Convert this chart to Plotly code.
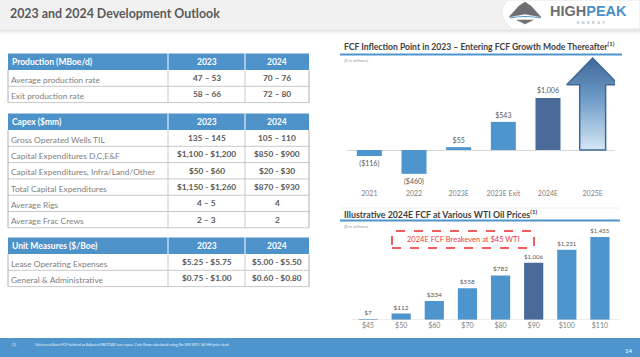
import plotly.graph_objects as go

# ---------------- data ----------------
title_text = "2023 and 2024 Development Outlook"

prod_header = ["Production (MBoe/d)", "2023", "2024"]
prod_rows = [["Average production rate", "47 – 53", "70 – 76"],
             ["Exit production rate", "58 – 66", "72 – 80"]]
capex_header = ["Capex ($mm)", "2023", "2024"]
capex_rows = [["Gross Operated Wells TIL", "135 – 145", "105 – 110"],
              ["Capital Expenditures D,C,E&F", "$1,100 - $1,200", "$850 - $900"],
              ["Capital Expenditures, Infra/Land/Other", "$50 - $60", "$20 - $30"],
              ["Total Capital Expenditures", "$1,150 - $1,260", "$870 - $930"],
              ["Average Rigs", "4 – 5", "4"],
              ["Average Frac Crews", "2 – 3", "2"]]
unit_header = ["Unit Measures ($/Boe)", "2023", "2024"]
unit_rows = [["Lease Operating Expenses", "$5.25 - $5.75", "$5.00 - $5.50"],
             ["General & Administrative", "$0.75 - $1.00", "$0.60 - $0.80"]]

fcf_title = "FCF Inflection Point in 2023 – Entering FCF Growth Mode Thereafter<sup>(1)</sup>"
fcf_years = ["2021", "2022", "2023E", "2023E Exit", "2024E", "2025E"]
fcf_values = [-116, -460, 55, 543, 1006]          # 2025E shown as an arrow
fcf_highlight = ["2024E"]

wti_title = "Illustrative 2024E FCF at Various WTI Oil Prices<sup>(1)</sup>"
wti_prices = ["$45", "$50", "$60", "$70", "$80", "$90", "$100", "$110"]
wti_fcf = [7, 112, 334, 558, 782, 1006, 1231, 1455]
wti_highlight = ["$90"]
breakeven_text = "2024E FCF Breakeven at $45 WTI"
units_text = "($ in millions)"
footnote_num = "(1)"
footnote_text = ("Unlevered Asset FCF defined as Adjusted EBITDAX less capex. "
                 "Cash flows calculated using flat $90 WTI/ $4 HH price deck.")
page_num = "14"

# ---------------- styles ----------------
W, H = 640, 357
FONT = "Lato"
BLUE = "#4f95cd"
DARK = "#4a6b99"
HDR = "#4e92ca"
GRAY_TXT = "#808080"
VAL_TXT = "#595959"


def X(px):
    return px / W


def Y(py):
    return 1 - py / H


shapes = []
annots = []


def rect(x0, y0, x1, y1, fill, line=None, lw=0, layer="below"):
    shapes.append(dict(type="rect", xref="paper", yref="paper",
                       x0=X(x0), x1=X(x1), y0=Y(y1), y1=Y(y0),
                       fillcolor=fill, line=dict(color=line or fill, width=lw),
                       layer=layer))


def hline(x0, x1, y, color, w=1, dash="solid"):
    shapes.append(dict(type="line", xref="paper", yref="paper",
                       x0=X(x0), x1=X(x1), y0=Y(y), y1=Y(y),
                       line=dict(color=color, width=w, dash=dash)))


def vline(x, y0, y1, color, w=1):
    shapes.append(dict(type="line", xref="paper", yref="paper",
                       x0=X(x), x1=X(x), y0=Y(y0), y1=Y(y1),
                       line=dict(color=color, width=w)))


def text(x, y, s, size, color, bold=False, anchor="left", family=FONT):
    s = s.replace("&", "&amp;")
    if bold:
        s = "<b>" + s + "</b>"
    annots.append(dict(xref="paper", yref="paper", x=X(x), y=Y(y), text=s,
                       showarrow=False, xanchor=anchor, yanchor="middle",
                       font=dict(family=family, size=size, color=color)))


# header band
rect(0, 0, W, 30, "#f1f1f1")
for i, c in enumerate(["#e2e2e2", "#ebebeb", "#f4f4f4", "#fafafa"]):
    rect(0, 30 + i, W, 31 + i, c)
text(8, 13.5, title_text, 12.4, "#595959", bold=True)

# logo
shapes.append(dict(type="path", xref="paper", yref="paper",
                   path="M %f,%f L %f,%f L %f,%f Q %f,%f %f,%f Z" % (
                       X(W), Y(0), X(W), Y(29), X(512), Y(29), X(494), Y(14.5), X(508), Y(0)),
                   fillcolor="white", line=dict(color="#e6e6e6", width=1)))
shapes.append(dict(type="path", xref="paper", yref="paper",
                   path="M %f,%f L %f,%f L %f,%f L %f,%f L %f,%f L %f,%f Z" % (
                       X(509), Y(17), X(519), Y(6), X(525), Y(2), X(531), Y(6), X(541), Y(17), X(525), Y(14)),
                   fillcolor="#6d6e71", line=dict(color="#6d6e71", width=0.5)))
shapes.append(dict(type="path", xref="paper", yref="paper",
                   path="M %f,%f Q %f,%f %f,%f" % (X(510), Y(18), X(525), Y(15), X(541), Y(18)),
                   line=dict(color="#4a90c8", width=1.2)))
shapes.append(dict(type="path", xref="paper", yref="paper",
                   path="M %f,%f L %f,%f L %f,%f Z" % (X(517), Y(20), X(533), Y(20), X(525), Y(24)),
                   fillcolor="#6d6e71", line=dict(color="#6d6e71", width=0.5)))
annots.append(dict(xref="paper", yref="paper", x=X(548), y=Y(11.5), xanchor="left", yanchor="middle",
                   showarrow=False,
                   text="<b><span style='color:#6d6e71'>HIGH</span><span style='color:#4a90c8'>PEAK</span></b>",
                   font=dict(family="Liberation Sans", size=14.5)))
text(591, 22.5, "E   N   E   R   G   Y", 3.6, "#8a8a8a", anchor="center")

# tables
TX0, TC1, TC2, TX1 = 8, 168, 245, 309
C1 = (TC1 + TC2) / 2
C2 = (TC2 + TX1) / 2


def draw_table(top, header, rows, hh=16.5, rh=16.3):
    rect(TX0, top, TX1, top + hh, HDR)
    vline(TC1, top, top + hh, "white", 1)
    vline(TC2, top, top + hh, "white", 1)
    yc = top + hh / 2
    text(TX0 + 2, yc, header[0], 8.5, "white", bold=True)
    text(C1, yc, header[1], 8.5, "white", bold=True, anchor="center")
    text(C2, yc, header[2], 8.5, "white", bold=True, anchor="center")
    y = top + hh
    for r in rows:
        hline(TX0, TX1, y + rh, "#c8c8c8", 1)
        yc = y + rh / 2
        text(TX0 + 1, yc + 1.5, r[0], 8.4, GRAY_TXT)
        text(C1, yc, r[1], 8.3, VAL_TXT, bold=True, anchor="center")
        text(C2, yc, r[2], 8.3, VAL_TXT, bold=True, anchor="center")
        y += rh
    vline(TC1, top + hh, y, "#c8c8c8", 1)
    vline(TC2, top + hh, y, "#c8c8c8", 1)
    vline(TX0, top + hh, y, "#b0b0b0", 1)
    vline(TX1, top + hh, y, "#b0b0b0", 1)


draw_table(53.5, prod_header, prod_rows)
draw_table(113.5, capex_header, capex_rows)
draw_table(237.5, unit_header, unit_rows)

# footer
rect(0, 338, W, H, "#4f95cd")
text(10, 344.5, footnote_num, 3.6, "#eaf2fa")
text(33, 344.5, footnote_text, 3.6, "#eaf2fa")
text(628, 350, page_num, 6, "white", anchor="center")

# ---------------- chart 1 ----------------
fig = go.Figure()


def money(v):
    return ("(${:,})".format(-v)) if v < 0 else "${:,}".format(v)


x1 = list(range(len(fcf_values)))
fig.add_trace(go.Bar(
    x=x1, y=fcf_values, width=0.56, xaxis="x", yaxis="y",
    marker=dict(color=[DARK if fcf_years[i] in fcf_highlight else BLUE for i in x1], line=dict(width=0)),
    text=[money(v) for v in fcf_values], textposition="outside", cliponaxis=False,
    textfont=dict(family=FONT, size=7, color=VAL_TXT), hoverinfo="skip"))

# 2025E arrow (illustrative, scaled from the largest bar)
ai = len(fcf_years) - 1
top_v = max(fcf_values)
body_top, tip = 1.25 * top_v, 1.765 * top_v
bw, hw = 0.29, 0.58
ax = [ai - bw, ai - bw, ai - hw, ai, ai + hw, ai + bw, ai + bw, ai - bw]
ay = [0, body_top, body_top, tip, body_top, body_top, 0, 0]
fig.add_trace(go.Scatter(
    x=ax, y=ay, xaxis="x", yaxis="y", mode="lines", fill="toself",
    line=dict(color="#3f6898", width=1.5),
    fillgradient=dict(type="vertical", colorscale=[[0, "#d6e7f5"], [0.55, "#6f9cc8"], [1, "#3f6898"]]),
    hoverinfo="skip", showlegend=False))

# ---------------- chart 2 ----------------
x2 = list(range(len(wti_fcf)))
fig.add_trace(go.Bar(
    x=x2, y=wti_fcf, width=0.58, xaxis="x2", yaxis="y2",
    marker=dict(color=[DARK if wti_prices[i] in wti_highlight else BLUE for i in x2], line=dict(width=0)),
    text=[money(v) for v in wti_fcf], textposition="outside", cliponaxis=False,
    textfont=dict(family=FONT, size=6.5, color=VAL_TXT), hoverinfo="skip"))

# chart titles
text(342, 46, fcf_title, 8.6, "#404040", bold=True)
hline(340, 622, 54.5, "#4f95cd", 1.8)
text(342, 60.5, units_text, 4.2, "#9a9a9a")

hline(340, 620, 208, "#eeeeee", 1)
text(342, 213.5, wti_title, 8.8, "#404040", bold=True)
hline(340, 620, 220.5, "#4f95cd", 1.8)
text(342, 226.5, units_text, 4.2, "#9a9a9a")

# breakeven box
shapes.append(dict(type="rect", xref="paper", yref="paper",
                   x0=X(392), x1=X(534), y0=Y(248), y1=Y(231),
                   line=dict(color="#ee2a2a", width=1.5, dash="dash"), fillcolor="rgba(0,0,0,0)"))
text(463, 239.5, breakeven_text, 7.5, "#e8413a", anchor="center")

# baseline chart 2
shapes.append(dict(type="line", xref="paper", yref="y2", x0=X(352), x1=X(620), y0=0, y1=0,
                   line=dict(color="#d9d9d9", width=1)))

S1 = 19.3   # $ per px
S2 = 17.55
fig.update_layout(
    width=W, height=H, margin=dict(l=0, r=0, t=0, b=0),
    paper_bgcolor="white", plot_bgcolor="rgba(0,0,0,0)", showlegend=False,
    shapes=shapes, annotations=annots,
    xaxis=dict(domain=[X(347), X(615)], range=[-0.5, 5.5], tickmode="array",
               tickvals=list(range(len(fcf_years))), ticktext=fcf_years,
               showgrid=False, zeroline=False, showline=False, ticks="",
               tickfont=dict(family=FONT, size=7, color=GRAY_TXT), fixedrange=True),
    yaxis=dict(domain=[Y(188), Y(55)], range=[-(188 - 150) * S1, (150 - 55) * S1],
               showticklabels=False, showgrid=False, zeroline=True, zerolinecolor="#d9d9d9",
               zerolinewidth=1, fixedrange=True),
    xaxis2=dict(domain=[X(351.5), X(616.5)], range=[-0.5, 7.5], tickmode="array",
                tickvals=x2, ticktext=wti_prices, anchor="y2",
                showgrid=False, zeroline=False, showline=False, ticks="",
                tickfont=dict(family=FONT, size=7, color=GRAY_TXT), fixedrange=True),
    yaxis2=dict(domain=[Y(320), Y(225)], range=[0, (320 - 225) * S2], anchor="x2",
                showticklabels=False, showgrid=False, zeroline=False, fixedrange=True),
)

fig.write_html("out.html", config={"displayModeBar": False},
               post_script="document.body.style.margin='0';document.body.style.overflow='hidden';")
